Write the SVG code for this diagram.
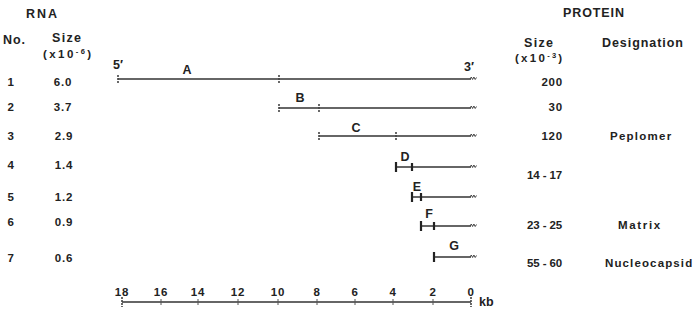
<svg xmlns="http://www.w3.org/2000/svg" width="700" height="320" viewBox="0 0 700 320">
<style>
text{font-family:"Liberation Sans",Arial,sans-serif;font-weight:bold;font-size:11.5px;fill:#222;letter-spacing:0.8px}
.hd{font-size:12.5px;letter-spacing:0}
.lb{font-size:12.5px;letter-spacing:0}
.sup{font-size:7.5px}
.ln{stroke:#333;stroke-width:1.3;fill:none}
.tk{stroke:#444;stroke-width:1.6;fill:none;stroke-dasharray:2 1}
.tkb{stroke:#222;stroke-width:2.2;fill:none}
.sq{stroke:#444;stroke-width:1;fill:none}
.st{stroke:#555;stroke-width:1;fill:none}
</style>
<defs>
<path id="squig" d="M0,0 l1.3,-2 l1.3,2.5 l1.3,-2.5 l1.3,2.5 l1.3,-2" class="sq"/>
</defs>
<g id="headers">
<text x="26" y="18" class="hd" textLength="31" lengthAdjust="spacing">RNA</text>
<text x="3" y="44" class="hd" textLength="22" lengthAdjust="spacing">No.</text>
<text x="52" y="42" class="hd" textLength="29" lengthAdjust="spacing">Size</text>
<text x="43" y="58" textLength="49" lengthAdjust="spacing">(x10<tspan class="sup" dy="-4">-6</tspan><tspan dy="4">)</tspan></text>
<text x="563" y="17" class="hd" textLength="61" lengthAdjust="spacing">PROTEIN</text>
<text x="524" y="47" class="hd" textLength="29" lengthAdjust="spacing">Size</text>
<text x="515" y="62" textLength="48" lengthAdjust="spacing">(x10<tspan class="sup" dy="-4">-3</tspan><tspan dy="4">)</tspan></text>
<text x="602" y="47" class="hd" textLength="81" lengthAdjust="spacing">Designation</text>
</g>
<g id="row1">
<text x="11" y="86" text-anchor="middle">1</text>
<text x="63" y="86" text-anchor="middle">6.0</text>
<text x="118" y="69" text-anchor="middle" class="lb">5′</text>
<text x="187" y="74" text-anchor="middle" class="lb">A</text>
<text x="469" y="71" text-anchor="middle" class="lb">3′</text>
<line x1="118" y1="79" x2="471" y2="79" class="ln"/>
<line x1="118" y1="75" x2="118" y2="83" class="tk"/>
<line x1="279" y1="75" x2="279" y2="83" class="tk"/>
<use href="#squig" x="470" y="79"/>
<text x="563" y="86" text-anchor="end">200</text>
</g>
<g id="row2">
<text x="11" y="111" text-anchor="middle">2</text>
<text x="63" y="111" text-anchor="middle">3.7</text>
<text x="300" y="102" text-anchor="middle" class="lb">B</text>
<line x1="279" y1="108" x2="471" y2="108" class="ln"/>
<line x1="279" y1="104" x2="279" y2="112" class="tk"/>
<line x1="319" y1="104" x2="319" y2="112" class="tk"/>
<use href="#squig" x="470" y="108"/>
<text x="563" y="111" text-anchor="end">30</text>
</g>
<g id="row3">
<text x="11" y="140" text-anchor="middle">3</text>
<text x="64" y="140" text-anchor="middle">2.9</text>
<text x="356" y="132" text-anchor="middle" class="lb">C</text>
<line x1="319" y1="136" x2="471" y2="136" class="ln"/>
<line x1="319" y1="132" x2="319" y2="140" class="tk"/>
<line x1="396" y1="132" x2="396" y2="140" class="tk"/>
<use href="#squig" x="470" y="136"/>
<text x="563" y="140" text-anchor="end">120</text>
<text x="610" y="140" textLength="62" lengthAdjust="spacing">Peplomer</text>
</g>
<g id="row4">
<text x="11" y="169" text-anchor="middle">4</text>
<text x="64" y="169" text-anchor="middle">1.4</text>
<text x="405" y="161" text-anchor="middle" class="lb">D</text>
<line x1="396" y1="167" x2="471" y2="167" class="ln"/>
<line x1="396" y1="162" x2="396" y2="172" class="tkb"/>
<line x1="412" y1="163" x2="412" y2="171" class="tkb"/>
<use href="#squig" x="470" y="167"/>
<text x="527" y="179" textLength="36" lengthAdjust="spacing">14 - 17</text>
</g>
<g id="row5">
<text x="11" y="201" text-anchor="middle">5</text>
<text x="64" y="201" text-anchor="middle">1.2</text>
<text x="417" y="191" text-anchor="middle" class="lb">E</text>
<line x1="412" y1="197" x2="471" y2="197" class="ln"/>
<line x1="412" y1="192" x2="412" y2="202" class="tkb"/>
<line x1="421" y1="193" x2="421" y2="201" class="tkb"/>
<use href="#squig" x="470" y="197"/>
</g>
<g id="row6">
<text x="11" y="226" text-anchor="middle">6</text>
<text x="64" y="226" text-anchor="middle">0.9</text>
<text x="429" y="218" text-anchor="middle" class="lb">F</text>
<line x1="421" y1="226" x2="471" y2="226" class="ln"/>
<line x1="421" y1="221" x2="421" y2="231" class="tkb"/>
<line x1="434" y1="222" x2="434" y2="230" class="tkb"/>
<use href="#squig" x="470" y="226"/>
<text x="527" y="229" textLength="36" lengthAdjust="spacing">23 - 25</text>
<text x="618" y="229" textLength="43" lengthAdjust="spacing">Matrix</text>
</g>
<g id="row7">
<text x="11" y="262" text-anchor="middle">7</text>
<text x="64" y="262" text-anchor="middle">0.6</text>
<text x="454" y="250" text-anchor="middle" class="lb">G</text>
<line x1="434" y1="257" x2="471" y2="257" class="ln"/>
<line x1="434" y1="252" x2="434" y2="262" class="tkb"/>
<use href="#squig" x="470" y="257"/>
<text x="527" y="267" textLength="36" lengthAdjust="spacing">55 - 60</text>
<text x="605" y="267" textLength="88" lengthAdjust="spacing">Nucleocapsid</text>
</g>
<g id="scale">
<line x1="122" y1="302" x2="471" y2="302" class="ln"/>
<line x1="122" y1="297" x2="122" y2="307" class="tk"/>
<line x1="471" y1="297" x2="471" y2="307" class="tk"/>
<g class="st">
<line x1="161" y1="299" x2="161" y2="305"/>
<line x1="198" y1="299" x2="198" y2="305"/>
<line x1="238" y1="299" x2="238" y2="305"/>
<line x1="278" y1="299" x2="278" y2="305"/>
<line x1="317" y1="299" x2="317" y2="305"/>
<line x1="355" y1="299" x2="355" y2="305"/>
<line x1="393" y1="299" x2="393" y2="305"/>
<line x1="433" y1="299" x2="433" y2="305"/>
</g>
<g text-anchor="middle">
<text x="122" y="296">18</text>
<text x="161" y="296">16</text>
<text x="198" y="296">14</text>
<text x="238" y="296">12</text>
<text x="278" y="296">10</text>
<text x="317" y="296">8</text>
<text x="355" y="296">6</text>
<text x="393" y="296">4</text>
<text x="433" y="296">2</text>
<text x="471" y="296">0</text>
</g>
<text x="479" y="306" class="lb">kb</text>
</g>
</svg>
